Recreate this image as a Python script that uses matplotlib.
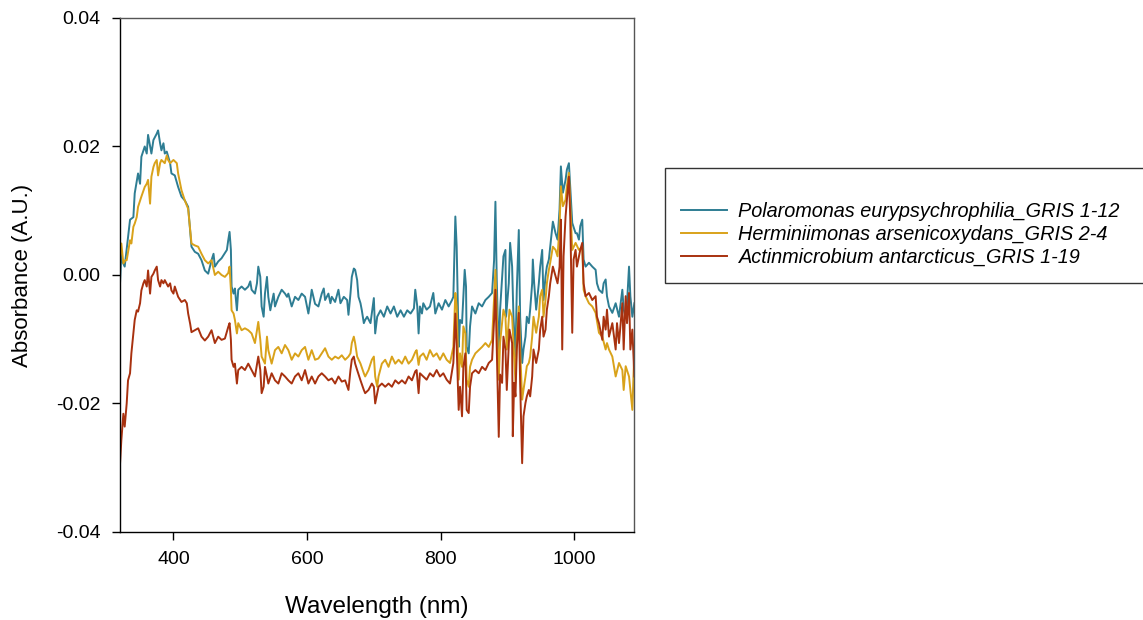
import numpy as np
import matplotlib
matplotlib.use("Agg")
import matplotlib.pyplot as plt
from matplotlib.ticker import FormatStrFormatter

plt.rcParams['font.family'] = ['Liberation Sans', 'DejaVu Sans']

# absorbance values below are in milli-A.U. (x 1e-3)
wl_polar = [320, 322, 324, 327, 332, 335, 340, 342, 347, 350, 352, 357, 360, 362, 365, 367, 370, 375, 377,
            380, 382, 385, 387, 390, 395, 397, 402, 407, 412, 417, 422, 425, 427, 432, 437, 442, 447, 452, 457,
            460, 462, 467, 472, 477, 480, 482, 484, 486, 487, 490, 492, 495, 497, 502, 507, 512, 515, 517, 522,
            525, 527, 530, 532, 535, 537, 540, 542, 545, 547, 550, 552, 557, 562, 567, 570, 572, 577, 582, 587,
            592, 597, 602, 605, 607, 612, 617, 622, 625, 627, 632, 635, 637, 642, 647, 650, 655, 660, 662, 665,
            667, 670, 672, 675, 677, 680, 682, 685, 687, 690, 695, 700, 702, 705, 710, 715, 720, 725, 730, 735,
            740, 745, 750, 755, 760, 762, 765, 767, 769, 772, 774, 779, 784, 789, 792, 797, 802, 807, 812, 817,
            819, 822, 824, 827, 829, 832, 836, 838, 839, 842, 844, 847, 852, 857, 862, 867, 872, 877, 880, 882,
            884, 887, 889, 894, 897, 898, 902, 904, 907, 909, 912, 914, 917, 919, 922, 924, 927, 929, 932, 934,
            937, 938, 940, 943, 947, 949, 952, 954, 957, 959, 962, 964, 968, 972, 975, 978, 980, 983, 987, 989,
            992, 997, 1002, 1004, 1007, 1009, 1012, 1014, 1017, 1022, 1027, 1032, 1034, 1037, 1042, 1044, 1047,
            1049, 1052, 1057, 1062, 1067, 1072, 1074, 1077, 1079, 1082, 1084, 1087, 1090]
abs_polar = [-1.3, 3.3, 2.0, 1.3, 5.9, 8.6, 9.0, 12.7, 15.8, 14.2, 18.4, 20.0, 18.9, 21.8, 20.0, 18.9, 21.0, 22.0, 22.5,
             20.5, 19.4, 20.5, 18.9, 19.2, 17.4, 15.8, 15.5, 13.7, 12.2, 11.6, 10.6, 7.0, 4.4, 3.6, 3.3, 2.3, 0.7, 0.2, 2.3,
             3.3, 1.3, 2.1, 2.6, 3.4, 3.9, 5.4, 6.7, 3.9, -1.8, -2.9, -2.1, -5.5, -2.3, -1.8, -2.3, -1.8, -1.0, -2.3, -2.9,
             -1.3, 1.3, -0.3, -4.9, -6.5, -2.9, -0.3, -3.4, -5.5, -4.4, -2.9, -4.9, -3.4, -2.3, -2.9, -3.4, -2.9, -4.9, -3.4, -3.9,
             -2.9, -3.4, -6.0, -3.9, -2.3, -4.5, -4.9, -2.9, -2.1, -3.9, -2.9, -4.4, -3.4, -4.2, -2.3, -4.4, -3.4, -3.9, -6.2, -2.9,
             -0.3, 1.0, 0.8, -0.8, -3.4, -4.4, -5.5, -7.5, -7.0, -6.5, -7.5, -3.6, -9.1, -6.5, -5.5, -6.5, -4.9, -6.0, -4.9, -6.5,
             -5.5, -6.5, -5.5, -6.0, -5.2, -2.3, -4.9, -9.1, -4.9, -6.0, -4.4, -5.4, -4.9, -2.8, -6.0, -4.4, -5.4, -3.9, -4.9, -3.9,
             -3.4, 9.1, 4.4, -11.2, -7.0, -7.5, 0.8, -1.8, -11.2, -12.2, -8.0, -4.9, -6.0, -4.4, -4.9, -3.9, -3.4, -2.8, 2.3, 11.4,
             -0.8, -13.2, -5.4, 2.9, 3.9, -6.5, -1.3, 5.0, 1.3, -6.5, -12.7, -2.3, 7.0, -6.5, -13.7, -11.6, -9.6, -6.5, -7.5, -5.4,
             -1.3, 2.4, -1.3, -5.4, -1.3, 1.3, 3.9, -3.9, -0.2, 1.3, 2.4, 4.4, 8.3, 6.5, 5.5, 10.2, 16.9, 12.8, 14.8, 16.4,
             17.4, 8.1, 6.5, 6.5, 5.5, 7.6, 8.6, 2.4, 1.3, 1.9, 1.3, 0.8, -1.3, -2.3, -2.8, -1.3, -0.7,
             -3.3, -4.9, -5.9, -4.4, -6.5, -2.3, -5.4, -6.5, -4.4, 1.3, -3.3, -6.5, -4.4]

wl_hermi = [320, 322, 325, 328, 330, 335, 337, 340, 342, 345, 347, 352, 357, 360, 362, 365, 367, 370, 372, 375, 377,
            380, 382, 387, 390, 392, 395, 400, 405, 407, 412, 417, 422, 425, 427, 432, 437, 442, 447, 452, 457,
            462, 467, 472, 477, 482, 484, 486, 487, 490, 492, 495, 497, 502, 507, 512, 517, 522, 525, 527, 530,
            532, 537, 540, 542, 547, 552, 557, 562, 567, 572, 577, 582, 587, 592, 597, 602, 607, 612, 617, 622,
            627, 632, 637, 642, 647, 652, 657, 662, 665, 667, 670, 672, 675, 680, 685, 687, 692, 697, 700, 702,
            705, 707, 712, 717, 722, 727, 732, 737, 742, 747, 752, 757, 762, 764, 767, 769, 774, 779, 784, 789,
            794, 799, 804, 809, 814, 819, 822, 824, 827, 829, 832, 834, 837, 839, 842, 844, 847, 852, 857, 862,
            867, 872, 877, 880, 882, 884, 887, 889, 894, 897, 899, 903, 907, 909, 912, 914, 917, 919, 922, 924,
            927, 929, 932, 934, 937, 939, 943, 947, 949, 952, 954, 957, 959, 962, 964, 968, 972, 975, 978, 980,
            983, 987, 989, 992, 997, 1002, 1007, 1012, 1014, 1017, 1022, 1027, 1032, 1037, 1042, 1047, 1049, 1052,
            1057, 1062, 1067, 1072, 1074, 1077, 1082, 1087, 1090]
abs_hermi = [2.8, 4.9, 1.8, 2.3, 2.3, 5.4, 4.9, 7.5, 8.0, 9.0, 10.6, 12.2, 13.7, 14.2, 14.8, 11.1, 15.3, 16.8, 17.4, 17.9, 15.5,
             17.4, 17.9, 17.4, 18.6, 17.9, 17.4, 17.9, 17.4, 15.8, 13.2, 11.6, 10.3, 7.0, 4.9, 4.6, 4.4, 3.3, 2.3, 1.8, 2.3,
             0.0, 0.5, 0.0, -0.3, 0.3, 1.3, -2.3, -5.5, -6.0, -7.0, -9.1, -7.5, -8.6, -8.3, -8.6, -9.1, -10.6, -8.6, -7.3, -10.1,
             -12.7, -13.8, -9.6, -11.7, -13.8, -11.7, -11.2, -12.2, -10.9, -11.7, -13.2, -12.2, -12.7, -11.7, -11.2, -13.2, -11.7, -13.2, -13.0, -12.2,
             -11.4, -12.7, -13.2, -12.7, -13.0, -12.5, -13.2, -12.7, -12.2, -10.6, -9.6, -10.6, -12.7, -13.8, -15.3, -15.8, -14.8, -13.2, -12.7, -15.8,
             -17.4, -15.8, -13.8, -13.2, -14.3, -12.7, -13.8, -13.2, -13.8, -12.7, -13.8, -13.2, -12.0, -11.7, -14.0, -12.7, -12.2, -13.2, -11.7, -12.7,
             -12.2, -13.2, -12.2, -13.2, -13.7, -11.2, -2.8, -4.9, -16.3, -12.2, -14.3, -8.0, -9.1, -16.3, -17.4, -14.3, -13.2, -12.2, -11.7, -11.2,
             -10.6, -11.2, -10.1, -3.4, 0.8, -6.0, -16.3, -10.5, -5.4, -6.5, -11.6, -5.4, -6.5, -10.6, -16.8, -9.6, -4.9, -11.6, -19.4, -17.9,
             -15.8, -14.2, -13.7, -12.7, -9.6, -6.5, -9.0, -6.5, -3.3, -2.3, -6.5, -3.9, -1.3, 0.8, 1.9, 4.4, 3.9, 2.9, 7.6, 13.8,
             10.7, 11.7, 13.8, 15.9, 3.9, 5.0, 3.9, 4.4, -2.3, -3.3, -4.4, -4.9, -5.9, -9.0, -9.6, -11.6, -10.6, -11.6,
             -12.7, -15.8, -13.7, -14.8, -17.9, -14.2, -15.8, -21.0, -11.6]

wl_actin = [320, 322, 325, 327, 330, 332, 335, 337, 340, 342, 345, 347, 350, 352, 355, 357, 360, 362, 365, 367, 370,
            372, 375, 377, 380, 382, 385, 387, 392, 395, 397, 400, 402, 407, 412, 417, 420, 422, 425, 427, 432,
            437, 442, 447, 452, 457, 462, 467, 472, 477, 482, 484, 486, 487, 490, 492, 495, 497, 502, 507, 512,
            517, 522, 527, 530, 532, 535, 537, 540, 542, 547, 552, 557, 562, 567, 572, 577, 582, 587, 592, 597,
            602, 607, 612, 617, 622, 627, 632, 637, 642, 647, 652, 657, 662, 665, 667, 670, 672, 675, 680, 685,
            687, 692, 697, 700, 702, 705, 707, 712, 717, 722, 727, 732, 737, 742, 747, 752, 757, 762, 764, 767,
            769, 774, 779, 784, 789, 794, 799, 804, 809, 814, 819, 822, 824, 827, 829, 832, 834, 837, 839, 842,
            844, 847, 852, 857, 862, 867, 872, 877, 880, 882, 884, 887, 889, 892, 894, 897, 899, 903, 907, 908,
            910, 912, 914, 917, 919, 922, 924, 927, 929, 932, 934, 937, 939, 943, 947, 949, 952, 954, 957, 959,
            962, 964, 968, 972, 975, 978, 980, 982, 984, 987, 989, 992, 994, 997, 999, 1002, 1004, 1007, 1009, 1012,
            1014, 1017, 1022, 1027, 1032, 1034, 1037, 1042, 1044, 1047, 1049, 1052, 1057, 1062, 1064, 1067, 1072, 1074,
            1077, 1079, 1082, 1084, 1087, 1090]
abs_actin = [-29.4, -25.7, -21.6, -23.6, -20.0, -16.4, -15.3, -12.2, -9.1, -7.0, -5.5, -5.7, -4.4, -2.4, -1.3, -0.8, -1.8, 0.7, -2.9, -0.3, 0.2,
             0.7, 1.3, -0.8, -1.8, -0.8, -1.3, -0.8, -1.8, -1.3, -2.4, -2.9, -1.8, -3.4, -4.2, -3.9, -4.4, -6.0, -7.6, -8.9, -8.6,
             -8.3, -9.6, -10.2, -9.6, -8.6, -10.6, -9.6, -10.1, -9.9, -8.1, -7.5, -10.1, -13.2, -14.3, -13.8, -16.9, -14.8, -14.3, -14.8, -13.8,
             -14.8, -15.8, -12.7, -14.8, -18.4, -17.4, -14.3, -15.8, -16.9, -15.3, -16.4, -16.9, -15.3, -15.8, -16.4, -16.9, -15.8, -15.3, -16.4, -14.8,
             -16.9, -15.8, -16.9, -15.8, -15.3, -15.8, -16.4, -16.1, -16.9, -15.8, -16.6, -16.4, -17.9, -14.8, -13.2, -12.7, -13.8, -14.8, -16.4, -17.9,
             -18.4, -17.9, -16.9, -17.4, -20.0, -18.4, -17.4, -16.9, -17.4, -16.9, -17.4, -16.4, -16.9, -16.4, -16.9, -15.8, -16.4, -15.0, -14.8, -18.4,
             -15.3, -15.8, -16.3, -15.3, -15.8, -14.8, -15.8, -15.3, -16.3, -16.9, -13.7, -6.0, -11.2, -21.0, -17.4, -22.0, -14.3, -12.2, -21.0, -21.5,
             -17.4, -15.3, -14.8, -15.3, -14.3, -14.8, -13.7, -13.2, -7.0, -2.3, -11.2, -25.2, -15.5, -16.8, -9.6, -11.6, -17.9, -8.5, -10.6, -25.1,
             -16.8, -18.9, -11.6, -5.9, -16.8, -29.3, -22.0, -19.9, -18.9, -17.9, -18.9, -15.8, -11.6, -13.7, -11.6, -8.5, -6.5, -9.6, -8.5, -5.4,
             -3.3, -1.3, 1.3, -0.2, -1.3, 1.3, 8.6, -11.6, 2.9, 9.1, 11.7, 15.3, 9.1, -9.0, 2.4, 3.9, 1.3, 2.9, 3.9, 5.0,
             -1.3, -3.3, -2.8, -3.9, -3.3, -6.5, -7.5, -10.1, -6.5, -8.5, -5.4, -9.6, -7.5, -11.6, -7.5, -10.6, -4.4, -11.6,
             -3.3, -7.5, -2.8, -11.6, -8.5, -15.8]

labels = ["Polaromonas eurypsychrophilia_GRIS 1-12",
          "Herminiimonas arsenicoxydans_GRIS 2-4",
          "Actinmicrobium antarcticus_GRIS 1-19"]
colors = ["#2e7d93", "#d9a21a", "#a8310f"]

fig = plt.figure(figsize=(11.43, 6.2), dpi=100)
ax = fig.add_axes([0.105, 0.142, 0.45, 0.829])

series = [(wl_polar, abs_polar), (wl_hermi, abs_hermi), (wl_actin, abs_actin)]
for (wl, ab), lab, col in zip(series, labels, colors):
    ax.plot(wl, np.array(ab) * 1e-3, color=col, lw=1.4, label=lab)

ax.set_xlim(320, 1090)
ax.set_ylim(-0.04, 0.04)
ax.set_xticks([400, 600, 800, 1000])
ax.set_yticks([-0.04, -0.02, 0.0, 0.02, 0.04])
ax.yaxis.set_major_formatter(FormatStrFormatter('%.2f'))
ax.tick_params(direction='out', length=6, width=1, labelsize=14, pad=8,
               top=False, right=False)
for s in ['top', 'right']:
    ax.spines[s].set_color('#555555')
for s in ax.spines.values():
    s.set_linewidth(1.0)

ax.set_xlabel("Wavelength (nm)", fontsize=17.5, labelpad=20)
ax.set_ylabel("Absorbance (A.U.)", fontsize=16)
ax.yaxis.set_label_coords(-0.17, 0.5)

leg = ax.legend(loc='upper left',
                bbox_to_anchor=(665 / 1143, 1 - 168 / 620 - 0.01, 480 / 1143, 0.01),
                bbox_transform=fig.transFigure, mode='expand', frameon=True, fancybox=False,
                prop={'style': 'italic', 'size': 14.3}, title=' ', title_fontsize=10,
                handlelength=2.3, handletextpad=0.6, labelspacing=0.2,
                borderpad=0.8, borderaxespad=0)
leg.get_frame().set_edgecolor('black')
leg.get_frame().set_linewidth(1.0)

fig.savefig("out.png", dpi=100)
